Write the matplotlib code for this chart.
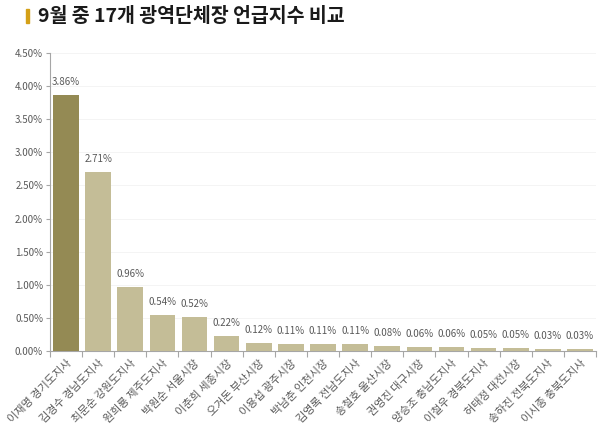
import matplotlib
matplotlib.use("Agg")
import matplotlib.pyplot as plt
from matplotlib.ticker import FuncFormatter

plt.rcParams['font.family'] = ['Noto Sans CJK KR', 'DejaVu Sans']

names = ["이재명 경기도지사", "김경수 경남도지사", "최문순 강원도지사", "원희룡 제주도지사",
         "박원순 서울시장", "이춘희 세종시장", "오거돈 부산시장", "이용섭 광주시장",
         "박남춘 인천시장", "김영록 전남도지사", "송철호 울산시장", "권영진 대구시장",
         "양승조 충남도지사", "이철우 경북도지사", "허태정 대전시장", "송하진 전북도지사",
         "이시종 충북도지사"]
values = [3.86, 2.71, 0.96, 0.54, 0.52, 0.22, 0.12, 0.11, 0.11, 0.11,
          0.08, 0.06, 0.06, 0.05, 0.05, 0.03, 0.03]

dark = "#948A54"
light = "#C4BD97"
text_col = "#595959"

fig = plt.figure(figsize=(6, 4.32), dpi=100)
ax = fig.add_axes([50 / 600, 1 - 351 / 432, 546 / 600, 298 / 432])

colors = [dark] + [light] * (len(values) - 1)
x = range(len(values))
ax.bar(x, values, width=0.8, color=colors, zorder=3)

for xi, v in zip(x, values):
    ax.text(xi, v + 0.12, f"{v:.2f}%", ha="center", va="bottom",
            fontsize=7, color=text_col)

ax.set_xlim(-0.5, len(values) - 0.5)
ax.set_ylim(0, 4.5)
ax.set_yticks([i * 0.5 for i in range(10)])
ax.yaxis.set_major_formatter(FuncFormatter(lambda v, p: f"{v:.2f}%"))
ax.grid(axis="y", color="#F2F2F2", linewidth=0.6, zorder=0)

# category boundaries get the tick marks, names sit under the bars
ax.set_xticks([i - 0.5 for i in range(len(values) + 1)], minor=False)
ax.set_xticklabels([])
ax.set_xticks(list(x), minor=True)
ax.set_xticklabels(names, minor=True, rotation=45, ha="right",
                   rotation_mode="anchor", fontsize=8, color=text_col)
ax.tick_params(axis="x", which="minor", length=0, pad=5)
ax.tick_params(axis="x", which="major", length=4, color="#A6A6A6", direction="out")
ax.tick_params(axis="y", labelsize=7, labelcolor=text_col, length=3,
               color="#A6A6A6", pad=2)

for s in ["top", "right"]:
    ax.spines[s].set_visible(False)
for s in ["left", "bottom"]:
    ax.spines[s].set_color("#A6A6A6")
    ax.spines[s].set_linewidth(0.8)

fig.patches.append(plt.Rectangle((26 / 600, 1 - 23 / 432), 3 / 600, 14 / 432,
                                 transform=fig.transFigure, color="#D4A017"))
fig.text(38 / 600, 1 - 16 / 432, "9월 중 17개 광역단체장 언급지수 비교",
         fontsize=14, fontweight="bold", color="#1a1a1a", va="center", ha="left")

fig.savefig("out.png", dpi=100)
